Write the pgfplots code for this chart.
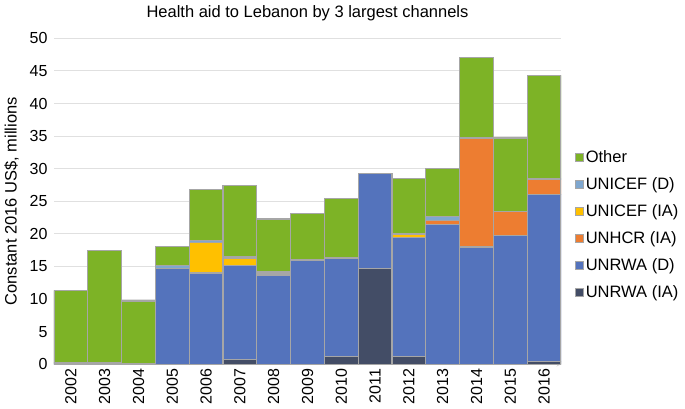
\documentclass[border=0pt]{standalone}
\usepackage{pgfplots}
\usepackage{pgfplotstable}
\pgfplotsset{compat=1.18}
\usepackage{fontspec}
\setmainfont{Liberation Sans}
\definecolor{cOther}{RGB}{125,179,38}
\definecolor{cUnicefD}{RGB}{127,167,207}
\definecolor{cUnicefIA}{RGB}{255,192,0}
\definecolor{cUnhcr}{RGB}{237,125,49}
\definecolor{cUnrwaD}{RGB}{84,115,188}
\definecolor{cUnrwaIA}{RGB}{67,77,102}
\definecolor{cBorder}{RGB}{166,166,166}
\pgfplotstableread{
x unrwaIA unrwaD unhcr unicefIA unicefD other
0 0 0 0 0 0.2 11.1
1 0 0 0 0 0.2 17.3
2 0 0 0 0 0.1 9.6
3 0 14.7 0 0 0.4 3.0
4 0 14.0 0 4.7 0.3 7.8
5 0.7 14.4 0 1.2 0.2 10.9
6 0 13.7 0 0.3 0.2 8.1
7 0 16.0 0 0 0.1 7.0
8 1.2 15.0 0 0 0.1 9.1
9 14.7 14.6 0 0 0 0
10 1.2 18.3 0 0.5 0.1 8.4
11 0 21.4 0.6 0 0.7 7.3
12 0 18.0 16.7 0 0 12.3
13 0 19.7 3.7 0 0 11.3
14 0.4 25.7 2.2 0 0.2 15.8
}\datatable
\begin{document}
\begin{tikzpicture}
\useasboundingbox (0pt,0pt) rectangle (685pt,408pt);
\begin{axis}[
  at={(54pt,43.7pt)}, anchor=south west,
  scale only axis,
  width=507pt, height=326pt,
  ybar stacked, bar width=1,
  xmin=-0.5, xmax=14.5,
  ymin=0, ymax=50,
  ytick={0,5,...,50},
  xtick=data,
  xticklabels={2002,2003,2004,2005,2006,2007,2008,2009,2010,2011,2012,2013,2014,2015,2016},
  x tick label style={rotate=90, anchor=east, font=\fontsize{16}{18}\selectfont, yshift=0pt, xshift=-1pt},
  y tick label style={font=\fontsize{16}{18}\selectfont, xshift=-3pt},
  /pgf/number format/assume math mode=true,
  major tick length=0pt,
  axis lines=left,
  axis line style={draw=none},
  x axis line style={draw=black!15, line width=1pt},
  ymajorgrids, grid style={draw=black!12, line width=1pt},
  ylabel={Constant 2016 US\$, millions},
  ylabel style={font=\fontsize{16.5}{18}\selectfont, yshift=4pt},
  title={Health aid to Lebanon by 3 largest channels},
  title style={font=\fontsize{16.5}{18}\selectfont, yshift=8pt},
  every axis plot/.append style={draw=cBorder, line width=1.2pt},
  reverse legend,
  legend style={at={(1.0276,0.429)}, anchor=west, draw=none, fill=none, inner xsep=0pt, inner ysep=0pt,
    font=\fontsize{16.5}{18}\selectfont, row sep=9.6pt, cells={anchor=west},
    /tikz/every even column/.append style={column sep=0pt}},
  legend image code/.code={\draw[#1, line width=0.6pt] (0pt,-4pt) rectangle (8pt,4pt);},
]
\addplot[fill=cUnrwaIA] table[x=x, y=unrwaIA]{\datatable};
\addplot[fill=cUnrwaD] table[x=x, y=unrwaD]{\datatable};
\addplot[fill=cUnhcr] table[x=x, y=unhcr]{\datatable};
\addplot[fill=cUnicefIA] table[x=x, y=unicefIA]{\datatable};
\addplot[fill=cUnicefD] table[x=x, y=unicefD]{\datatable};
\addplot[fill=cOther] table[x=x, y=other]{\datatable};
\legend{UNRWA (IA), UNRWA (D), UNHCR (IA), UNICEF (IA), UNICEF (D), Other}
\end{axis}
\end{tikzpicture}
\end{document}
